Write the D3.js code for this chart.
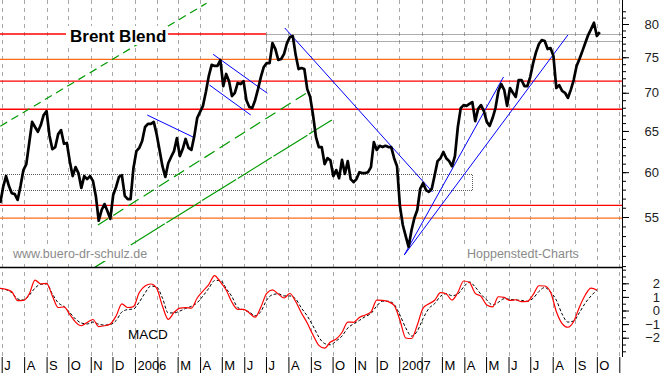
<!DOCTYPE html>
<html>
<head>
<meta charset="utf-8">
<script src="https://cdn.jsdelivr.net/npm/d3@7"></script>
<style>
  body { margin: 0; background: #fff; }
  svg { display: block; font-family: Arial, "Liberation Sans", sans-serif; }
</style>
</head>
<body>
<svg id="chart" width="663" height="373"></svg>
<script>
// Brent daily closes, read every 4 days from 2005-06-29
const startDate = "2005-06-29";
const priceStepDays = 4;
const brentPrices = [
  56.5, 58.3, 59.55, 58.4, 57.6, 57.5, 56.85, 58.4, 60.25, 60.95,
  63.5, 66.15, 65.5, 64.9, 65.75, 67.05, 67.55, 64.4, 62.75, 63.0,
  64.6, 65.1, 63.4, 63.5, 61.3, 59.55, 60.6, 59.9, 58.2, 59.55,
  59.2, 59.55, 59.0, 57.3, 54.6, 55.75, 56.4, 55.65, 54.8, 57.4,
  58.3, 59.45, 59.65, 57.3, 56.95, 56.95, 60.5, 62.5, 62.9, 63.75,
  65.5, 65.9, 65.9, 66.15, 64.6, 62.65, 60.7, 59.45, 61.05, 61.8,
  62.5, 64.1, 61.9, 62.75, 64.0, 62.9, 62.65, 64.35, 66.65, 67.45,
  68.25, 70.1, 72.3, 73.9, 73.75, 73.75, 74.6, 70.9, 72.6, 71.6,
  69.55, 70.0, 71.35, 71.2, 71.6, 69.0, 68.1, 67.95, 69.0, 70.5,
  72.2, 73.6, 74.15, 74.15, 77.1, 76.2, 74.6, 74.75, 75.5, 77.1,
  78.0, 78.15, 75.35, 73.3, 73.45, 73.3, 70.5, 69.45, 67.05, 64.25,
  63.0, 63.0, 60.95, 61.65, 61.4, 59.55, 60.25, 59.3, 61.45, 59.8,
  61.3, 59.2, 58.85, 59.2, 60.0, 59.9, 59.9, 60.0, 60.6, 63.6,
  62.65, 63.15, 63.0, 63.15, 63.0, 63.0, 61.65, 60.7, 56.2, 54.15,
  53.0, 51.9, 53.6, 54.9, 55.75, 58.1, 58.75, 57.95, 57.75, 58.1,
  59.65, 61.3, 61.65, 62.4, 61.65, 61.3, 60.7, 61.9, 65.5, 67.95,
  68.35, 68.25, 68.5, 68.75, 66.25, 67.85, 68.35, 67.55, 66.15, 65.65,
  66.65, 67.95, 70.25, 71.2, 70.4, 68.25, 70.65, 70.0, 69.45, 71.75,
  71.75, 70.9, 70.9, 72.2, 74.15, 75.75, 76.95, 77.55, 77.4, 76.2,
  76.35, 75.2, 70.65, 71.05, 70.25, 70.0, 69.3, 70.4, 71.75, 73.75,
  74.75, 75.9, 77.1, 78.3, 79.2, 80.2, 78.15, 78.75
];

// MACD and signal, read every 8 days from the same start
const macdStepDays = 8;
const macdValues = [
  1.63, 1.56, 1.38, 0.72, 0.74, 1.21, 2.24, 1.95, 2.0, 1.07,
  0.22, 0.26, -0.29, -0.85, -1.12, -0.88, -0.66, -1.18, -1.12, -0.99,
  -0.40, 0.48, 0.22, 0.29, 1.32, 1.80, 1.95, 1.65, 0.33, -0.65,
  -0.15, 0.18, 0.21, 0.18, 0.92, 1.43, 1.91, 2.57, 2.10, 1.51,
  0.61, 0.09, 0.09, -0.18, -0.49, 0.26, 1.26, 1.51, 1.21, 0.92,
  1.25, 0.66, -0.18, -0.92, -1.80, -2.56, -2.77, -2.32, -2.10, -1.62,
  -0.85, -0.87, -0.51, -0.33, -0.11, 0.77, 0.75, 0.65, 0.37, -0.70,
  -2.02, -2.06, -1.07, 0.18, 0.49, 0.75, 1.31, 1.21, 0.77, 1.32,
  2.17, 2.06, 1.26, 1.04, 0.40, 0.26, 1.01, 0.96, 0.74, 0.79,
  0.65, 0.67, 1.16, 1.82, 1.80, 1.36, -0.07, -0.96, -1.23, -0.81,
  0.26, 1.14, 1.65, 1.51
];
const signalValues = [
  1.63, 1.53, 1.31, 0.85, 0.77, 1.12, 1.65, 1.93, 1.95, 1.21,
  0.57, 0.29, -0.15, -0.63, -0.92, -0.99, -0.85, -1.01, -1.07, -1.03,
  -0.74, -0.11, 0.07, 0.11, 0.62, 1.29, 1.80, 1.73, 0.92, -0.18,
  -0.18, -0.04, 0.15, 0.31, 0.57, 1.07, 1.63, 2.20, 2.22, 1.62,
  1.02, 0.22, 0.05, -0.11, -0.39, -0.07, 0.77, 1.16, 1.23, 1.07,
  1.07, 0.85, 0.18, -0.40, -1.14, -1.95, -2.43, -2.52, -2.24, -1.88,
  -1.29, -0.98, -0.73, -0.45, -0.22, 0.33, 0.68, 0.68, 0.45, -0.33,
  -1.27, -1.88, -1.51, -0.59, 0.15, 0.51, 1.04, 1.24, 1.09, 1.21,
  1.73, 2.10, 1.73, 1.19, 0.77, 0.40, 0.60, 0.87, 0.82, 0.77,
  0.74, 0.68, 0.90, 1.40, 1.69, 1.36, 0.77, -0.26, -0.85, -0.77,
  -0.15, 0.55, 1.07, 1.51
];

const monthLabels = ["J","A","S","O","N","D","2006","","M","A","M","J","J","A","S","O","N","D","2007","","M","A","M","J","J","A","S","O"];
const priceTicks = [55, 60, 65, 70, 75, 80];
const priceMinorTicks = d3.range(50, 83, 1);
const macdTicks = [-2, -1, 0, 1, 2];
const macdMinorTicks = d3.range(-3.5, 4, 0.5);

// support / resistance levels
const redLevels = [71.6, 67.8, 56.26];
const orangeLevels = [74.7, 54.87];
const titleLevel = 78.46;
const titleLevelEnd = "2006-07-01";
const upperBand = [78.46, 77.36];
const upperBandStart = "2006-07-01";
const lowerBand = [59.84, 58.04];
const lowerBandEnd = "2007-04-12";

// trend lines: [date, price] pairs
const greenLines = [
  [["2005-06-29", 65.6], ["2006-04-10", 83.3]],
  [["2005-11-11", 54.15], ["2006-08-26", 69.97]],
  [["2005-11-07", 49.9], ["2006-09-30", 66.4]]
];
const blueLines = [
  [["2006-01-18", 67.04], ["2006-03-25", 64.12]],
  [["2006-04-19", 75.43], ["2006-07-03", 69.93]],
  [["2006-04-14", 71.06], ["2006-06-10", 67.04]],
  [["2006-07-27", 79.38], ["2007-02-16", 57.74]],
  [["2007-01-08", 51.09], ["2007-05-25", 72.18]],
  [["2007-01-08", 51.09], ["2007-08-22", 78.31]]
];

let red = "#ff0000";
let orange = "#ff6a1a";
let green = "#009a00";
let blue = "#0000ff";
let gridGray = "#a8a8a8";
let bandGray = "#5a5a5a";

const svg = d3.select("#chart");
const parseDate = d3.timeParse("%Y-%m-%d");
const t0 = parseDate(startDate);

const plotRight = 622;
const priceBottom = 267;
const macdBottom = 357;

const x = d3.scaleTime()
  .domain([new Date(2005, 6, 1), new Date(2007, 10, 1)])
  .range([1.7, 619.3]);
const y = d3.scaleLog().domain([55, 80]).range([217, 24]);
const yMacd = d3.scaleLinear().domain([-2, 2]).range([337.7, 283.3]);

const priceData = brentPrices.map((v, i) => ({date: d3.timeDay.offset(t0, i * priceStepDays), value: v}));
const macdData = macdValues.map((v, i) => ({date: d3.timeDay.offset(t0, i * macdStepDays), value: v}));
const signalData = signalValues.map((v, i) => ({date: d3.timeDay.offset(t0, i * macdStepDays), value: v}));

const defs = svg.append("defs");
defs.append("clipPath").attr("id", "clipPrice")
  .append("rect").attr("x", 0).attr("y", 0).attr("width", plotRight).attr("height", priceBottom);
defs.append("clipPath").attr("id", "clipMacd")
  .append("rect").attr("x", 0).attr("y", priceBottom).attr("width", plotRight).attr("height", macdBottom - priceBottom);

const months = d3.timeMonth.range(new Date(2005, 6, 1), new Date(2007, 10, 2));

// vertical dashed month grid
svg.append("g").selectAll("line")
  .data(months)
  .join("line")
  .attr("x1", d => Math.round(x(d)) + 0.5)
  .attr("x2", d => Math.round(x(d)) + 0.5)
  .attr("y1", 0)
  .attr("y2", macdBottom)
  .style("stroke", gridGray)
  .style("stroke-dasharray", "4,4");

const price = svg.append("g").attr("clip-path", "url(#clipPrice)");

// horizontal levels
price.selectAll(".red-level")
  .data(redLevels)
  .join("line")
  .attr("x1", 0).attr("x2", plotRight)
  .attr("y1", d => y(d)).attr("y2", d => y(d))
  .style("stroke", red).style("stroke-width", 1.3);

price.selectAll(".orange-level")
  .data(orangeLevels)
  .join("line")
  .attr("x1", 0).attr("x2", plotRight)
  .attr("y1", d => y(d)).attr("y2", d => y(d))
  .style("stroke", orange).style("stroke-width", 1.3);

price.append("line")
  .attr("x1", 0).attr("x2", x(parseDate(titleLevelEnd)))
  .attr("y1", y(titleLevel)).attr("y2", y(titleLevel))
  .style("stroke", red).style("stroke-width", 1.3);

// dotted bands
price.append("rect")
  .attr("x", Math.round(x(parseDate(upperBandStart))) + 0.5)
  .attr("y", Math.round(y(upperBand[0])) + 0.5)
  .attr("width", plotRight + 5 - x(parseDate(upperBandStart)))
  .attr("height", Math.round(y(upperBand[1]) - y(upperBand[0])))
  .style("fill", "none").style("stroke", bandGray).style("stroke-dasharray", "1,1");

price.append("rect")
  .attr("x", -5)
  .attr("y", Math.round(y(lowerBand[0])) + 0.5)
  .attr("width", Math.round(x(parseDate(lowerBandEnd))) + 5.5)
  .attr("height", Math.round(y(lowerBand[1]) - y(lowerBand[0])))
  .style("fill", "none").style("stroke", bandGray).style("stroke-dasharray", "1,1");

// trend lines
const greenDash = ["8,5", "12,6", "40,2"];
price.selectAll(".green-line")
  .data(greenLines)
  .join("line")
  .attr("x1", d => x(parseDate(d[0][0]))).attr("y1", d => y(d[0][1]))
  .attr("x2", d => x(parseDate(d[1][0]))).attr("y2", d => y(d[1][1]))
  .style("stroke", green).style("stroke-width", 1.2)
  .style("stroke-dasharray", (d, i) => greenDash[i]);

price.selectAll(".blue-line")
  .data(blueLines)
  .join("line")
  .attr("x1", d => x(parseDate(d[0][0]))).attr("y1", d => y(d[0][1]))
  .attr("x2", d => x(parseDate(d[1][0]))).attr("y2", d => y(d[1][1]))
  .style("stroke", blue).style("stroke-width", 1);

// label boxes (white, they cut the lines behind them)
price.append("rect").attr("x", 66).attr("y", 26).attr("width", 102).attr("height", 19).style("fill", "#fff");
price.append("rect").attr("x", 10).attr("y", 246).attr("width", 141).attr("height", 15).style("fill", "#fff");
price.append("rect").attr("x", 464).attr("y", 246).attr("width", 120).attr("height", 15).style("fill", "#fff");

// price line
const priceLine = d3.line()
  .x(d => x(d.date))
  .y(d => y(d.value));

price.append("path")
  .datum(priceData)
  .attr("d", priceLine)
  .style("fill", "none")
  .style("stroke", "#000")
  .style("stroke-width", 2.7)
  .style("stroke-linejoin", "round");

price.append("text")
  .attr("x", 70).attr("y", 41.5)
  .text("Brent Blend")
  .style("font-size", "17px").style("font-weight", "bold").style("fill", "#000");

price.append("text")
  .attr("x", 13).attr("y", 258)
  .text("www.buero-dr-schulz.de")
  .style("font-size", "12.5px").style("fill", "#8a8a8a");

price.append("text")
  .attr("x", 467).attr("y", 258)
  .text("Hoppenstedt-Charts")
  .style("font-size", "12.5px").style("fill", "#8a8a8a");

// panel separator
svg.append("line")
  .attr("x1", 0).attr("x2", plotRight)
  .attr("y1", priceBottom + 0.5).attr("y2", priceBottom + 0.5)
  .style("stroke", "#000").style("stroke-width", 1.3);

// MACD panel
const macd = svg.append("g").attr("clip-path", "url(#clipMacd)");
const macdLine = d3.line()
  .x(d => x(d.date))
  .y(d => yMacd(d.value))
  .curve(d3.curveMonotoneX);

macd.append("path")
  .datum(signalData)
  .attr("d", macdLine)
  .style("fill", "none").style("stroke", "#000").style("stroke-width", 1)
  .style("stroke-dasharray", "3,2");

macd.append("path")
  .datum(macdData)
  .attr("d", macdLine)
  .style("fill", "none").style("stroke", red).style("stroke-width", 1.2);

svg.append("text")
  .attr("x", 128).attr("y", 339)
  .text("MACD")
  .style("font-size", "13.5px").style("fill", "#000");

// right axes
const axisFont = "Arial, 'Liberation Sans', sans-serif";

const yMinor = svg.append("g")
  .attr("transform", `translate(${plotRight}, 0)`)
  .call(d3.axisRight(y).tickValues(priceMinorTicks.filter(d => y(d) > 0 && y(d) < priceBottom)).tickSize(4).tickFormat(""));
yMinor.select(".domain").remove();

const yAxis = d3.axisRight(y).tickValues(priceTicks).tickSize(7).tickFormat(d3.format("d"));
const gy = svg.append("g")
  .attr("class", "axis yaxis")
  .attr("transform", `translate(${plotRight}, 0)`)
  .call(yAxis);
gy.select(".domain").remove();
gy.selectAll(".tick text")
  .attr("x", 37).attr("text-anchor", "end")
  .style("font-size", "13px").style("fill", "#222")
  .style("font-family", axisFont);

const mMinor = svg.append("g")
  .attr("transform", `translate(${plotRight}, 0)`)
  .call(d3.axisRight(yMacd).tickValues(macdMinorTicks.filter(d => yMacd(d) > priceBottom + 2 && yMacd(d) < macdBottom)).tickSize(4).tickFormat(""));
mMinor.select(".domain").remove();

const yMacdAxis = d3.axisRight(yMacd).tickValues(macdTicks).tickSize(7).tickFormat(d3.format("d"));
const gm = svg.append("g")
  .attr("class", "axis macdaxis")
  .attr("transform", `translate(${plotRight}, 0)`)
  .call(yMacdAxis);
gm.select(".domain").remove();
gm.selectAll(".tick text")
  .attr("x", 38).attr("text-anchor", "end")
  .style("font-size", "13px").style("fill", "#222")
  .style("font-family", axisFont);

svg.append("line")
  .attr("x1", plotRight + 0.5).attr("x2", plotRight + 0.5)
  .attr("y1", 0).attr("y2", macdBottom)
  .style("stroke", "#000");

// month row
const xAxis = d3.axisBottom(x)
  .tickValues(months)
  .tickSize(16)
  .tickFormat((d, i) => monthLabels[i] || "");
const gx = svg.append("g")
  .attr("class", "axis xaxis")
  .attr("transform", `translate(0, ${macdBottom})`)
  .call(xAxis);
gx.select(".domain").remove();
gx.selectAll(".tick line").style("stroke", "#000");
gx.selectAll(".tick text")
  .attr("x", 2).attr("y", 13).attr("dy", 0)
  .attr("text-anchor", "start")
  .style("font-size", "13px").style("fill", "#000")
  .style("font-family", axisFont);
</script>
</body>
</html>
